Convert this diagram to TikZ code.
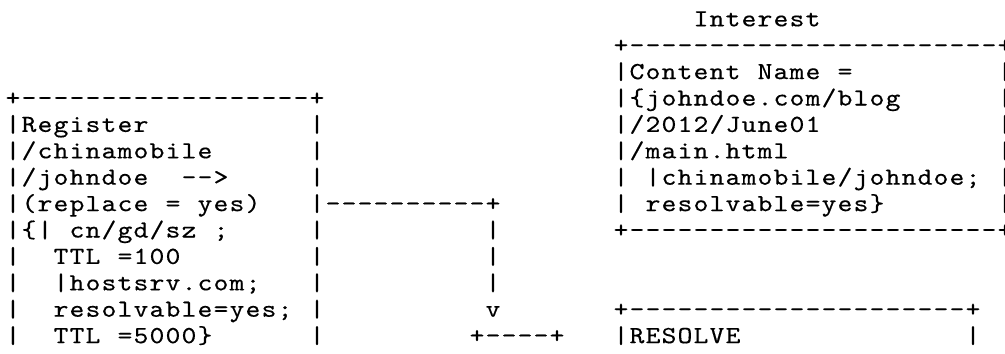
\documentclass[tikz,border=0pt]{standalone}
\usepackage{fontspec}
\usepackage{graphicx}
\setmonofont{lmmono10-regular}[Extension=.otf, FakeBold=0.35]
\newlength\chw
\setlength\chw{12pt}
\ExplSyntaxOn
\cs_new_protected:Npn \ascrow #1
  { \tl_map_inline:nn {#1} { \makebox[\chw][c]{\scalebox{1.15}[1]{##1}} } }
\ExplSyntaxOff
\tikzset{
  asc/.style={anchor=base west, inner sep=0pt, outer sep=0pt,
    font=\ttfamily\fontsize{18.4pt}{20pt}\selectfont},
  ascz/.style={anchor=base, inner sep=0pt, outer sep=0pt,
    font=\ttfamily\fontsize{18.4pt}{20pt}\selectfont}
}
% run of characters starting at a column
\newcommand\run[4]{\node[asc] (#1) at ({5+16*#2},{26.3+26.4*#3}) {\ascrow{#4}};}
% single character at the cut-off right edge (zero-width box)
\newcommand\edge[4]{\node[ascz] (#1) at ({13+16*#2},{26.3+26.4*#3}) {\makebox[0pt][c]{\scalebox{1.15}[1]{#4}}};}
\begin{document}
\begin{tikzpicture}[x=0.75pt,y=-0.75pt]
\useasboundingbox (0,0) rectangle (1005,353);
\clip (0,0) rectangle (1005,353);
% Interest packet
\run{interest}{43}{0}{Interest}
\run{itop}{38}{1}{+-----------------------}
\run{ia}{38}{2}{|Content~Name~=}
\run{ib}{38}{3}{|\{johndoe.com/blog}
\run{ic}{38}{4}{|/2012/June01}
\run{id}{38}{5}{|/main.html}
\run{ie}{38}{6}{|~|chinamobile/johndoe;}
\run{if}{38}{7}{|~resolvable=yes\}}
\run{ibot}{38}{8}{+-----------------------}
\edge{ir1}{62}{1}{+}
\edge{ir2}{62}{2}{|}
\edge{ir3}{62}{3}{|}
\edge{ir4}{62}{4}{|}
\edge{ir5}{62}{5}{|}
\edge{ir6}{62}{6}{|}
\edge{ir7}{62}{7}{|}
\edge{ir8}{62}{8}{+}
% Register box
\run{rtop}{0}{3}{+------------------+}
\run{ra}{0}{4}{|Register}
\run{rb}{0}{5}{|/chinamobile}
\run{rc}{0}{6}{|/johndoe~~-->}
\run{rd}{0}{7}{|(replace~=~yes)}
\run{re}{0}{8}{|\{|~cn/gd/sz~;}
\run{rf}{0}{9}{|~~TTL~=100}
\run{rg}{0}{10}{|~~|hostsrv.com;}
\run{rh}{0}{11}{|~~resolvable=yes;}
\run{ri}{0}{12}{|~~TTL~=5000\}}
\run{rr4}{19}{4}{|}
\run{rr5}{19}{5}{|}
\run{rr6}{19}{6}{|}
\run{rr7}{19}{7}{|----------+}
\run{rr8}{19}{8}{|}
\run{rr9}{19}{9}{|}
\run{rr10}{19}{10}{|}
\run{rr11}{19}{11}{|}
\run{rr12}{19}{12}{|}
% arrow
\run{a8}{30}{8}{|}
\run{a9}{30}{9}{|}
\run{a10}{30}{10}{|}
\run{a11}{30}{11}{v}
\run{small}{29}{12}{+----+}
% Resolve box
\run{stop}{38}{11}{+---------------------+}
\run{sa}{38}{12}{|RESOLVE}
\run{sr}{60}{12}{|}
\end{tikzpicture}
\end{document}
